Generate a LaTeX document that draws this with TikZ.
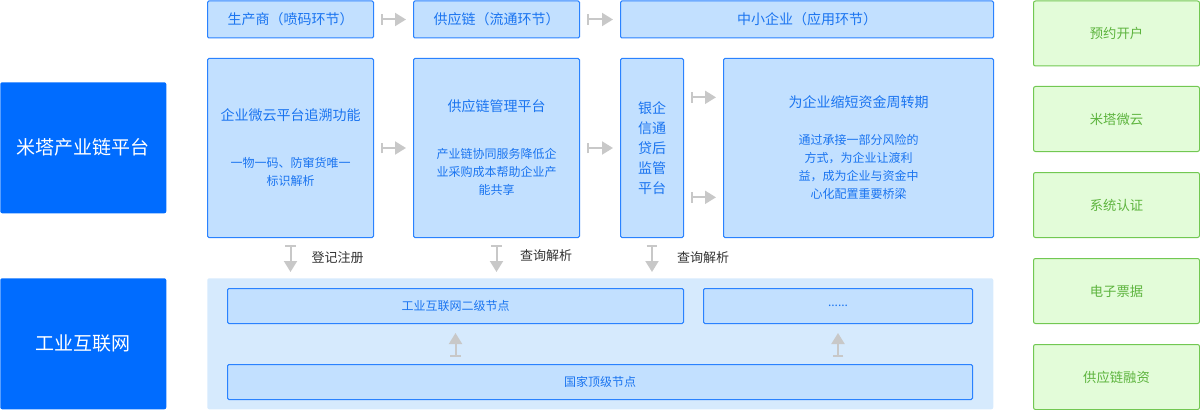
\documentclass[tikz,border=0pt]{standalone}
\usepackage{fontspec}
\setmainfont{Noto Sans CJK SC}
\usetikzlibrary{arrows.meta}
\newcommand{\px}{0.75pt}
\newcommand{\notefont}{\fontsize{9}{13.5}\selectfont}
\definecolor{sideblue}{HTML}{006CFF}
\definecolor{cardline}{HTML}{2A82FF}
\definecolor{cardfill}{HTML}{C2E0FF}
\definecolor{cardtext}{HTML}{1A74F0}
\definecolor{basefill}{HTML}{D6EAFD}
\definecolor{svcfill}{HTML}{E3FCD9}
\definecolor{svcline}{HTML}{72C852}
\definecolor{svctext}{HTML}{5DB43E}
\definecolor{arrowgray}{HTML}{C8C8C8}
\definecolor{tagtext}{HTML}{333333}

\begin{document}
\begin{tikzpicture}[x=\px, y=-\px,
    side/.style={fill=sideblue, rounded corners=1.5pt, anchor=north west, inner sep=0pt, text=white, font=\fontsize{14.25}{17}\selectfont},
    card/.style={draw=cardline, fill=cardfill, line width=\px, rounded corners=1pt, anchor=north west, inner sep=0pt, text=cardtext, align=center, font=\fontsize{10.5}{13.5}\selectfont},
    panel/.style={fill=basefill, rounded corners=1.5pt, anchor=north west, inner sep=0pt},
    service/.style={draw=svcline, fill=svcfill, line width=\px, rounded corners=1.5pt, anchor=north west, inner sep=0pt, minimum width=166*\px, minimum height=65*\px, text=svctext, font=\fontsize{10}{13}\selectfont},
    flow/.style={draw=arrowgray, line width=1.5pt, {Bar[width=8pt]}-{Triangle[length=8.25pt, width=9.75pt]}, shorten <=5.25pt, shorten >=5.25pt},
    tag/.style={text=tagtext, inner sep=0pt, anchor=west, font=\fontsize{9.75}{12}\selectfont}]
    \useasboundingbox (0,0) rectangle (1200,410);

    % Left column
    \node[side, minimum width=166*\px, minimum height=131*\px] (mita) at (0,82) {米塔产业链平台};
    \node[side, minimum width=166*\px, minimum height=131*\px] (iiot) at (0,278) {工业互联网};

    % First row
    \node[card, minimum width=166*\px, minimum height=37*\px] (maker) at (207,0.5) {生产商（喷码环节）};
    \node[card, minimum width=166*\px, minimum height=37*\px] (chain) at (413,0.5) {供应链（流通环节）};
    \node[card, minimum width=373*\px, minimum height=37*\px] (sme) at (620,0.5) {中小企业（应用环节）};

    % Second row
    \node[card, minimum width=166*\px, minimum height=179*\px] (trace) at (207,58) {企业微云平台追溯功能\\[21.75pt]\notefont 一物一码、防窜货唯一\\\notefont 标识解析};
    \node[card, minimum width=166*\px, minimum height=179*\px] (scm) at (413,58) {供应链管理平台\\[21.75pt]\notefont 产业链协同服务降低企\\\notefont 业采购成本帮助企业产\\\notefont 能共享};
    \node[card, minimum width=63*\px, minimum height=179*\px, font=\fontsize{10.5}{15}\selectfont] (bank) at (620,58) {银企\\信通\\贷后\\监管\\平台};
    \node[card, minimum width=270*\px, minimum height=179*\px] (cycle) at (723,58) {为企业缩短资金周转期\\[14.25pt]\notefont 通过承接一部分风险的\\\notefont 方式，为企业让渡利\\\notefont 益，成为企业与资金中\\\notefont 心化配置重要桥梁};

    % Bottom panel
    \node[panel, minimum width=786*\px, minimum height=131*\px] (base) at (207,278) {};
    \node[card, minimum width=456*\px, minimum height=35*\px, font=\notefont] (second) at (227,288) {工业互联网二级节点};
    \node[card, minimum width=269*\px, minimum height=35*\px, font=\notefont] (more) at (703,288) {......};
    \node[card, minimum width=745*\px, minimum height=35*\px, font=\notefont] (top) at (227,364) {国家顶级节点};

    % Right column
    \node[service] (svc-1) at (1033,0.5) {预约开户};
    \node[service] (svc-2) at (1033,86) {米塔微云};
    \node[service] (svc-3) at (1033,172) {系统认证};
    \node[service] (svc-4) at (1033,258) {电子票据};
    \node[service] (svc-5) at (1033,344) {供应链融资};

    % Arrows
    \draw[flow] (maker.east) -- (chain.west);
    \draw[flow] (chain.east) -- (sme.west);
    \draw[flow] (trace.east) -- (scm.west);
    \draw[flow] (scm.east) -- (bank.west);
    \draw[flow] ([yshift=38pt]bank.east) -- ([yshift=38pt]cycle.west);
    \draw[flow] ([yshift=-37pt]bank.east) -- ([yshift=-37pt]cycle.west);

    \draw[flow, shorten >=4.5pt] (trace.south) -- (trace.south |- base.north) node[midway, tag, right=15pt] (reg) {登记注册};
    \draw[flow, shorten >=4.5pt] (scm.south) -- (scm.south |- base.north) node[midway, tag, right=17pt, yshift=1.5pt] (query-a) {查询解析};
    \draw[flow, shorten >=4.5pt] (bank.south) -- (bank.south |- base.north) node[midway, tag, right=18pt] (query-b) {查询解析};

    \draw[flow, shorten >=6.75pt] (second.south |- top.north) -- (second.south);
    \draw[flow, shorten >=6.75pt] (more.south |- top.north) -- (more.south);

\end{tikzpicture}
\end{document}
